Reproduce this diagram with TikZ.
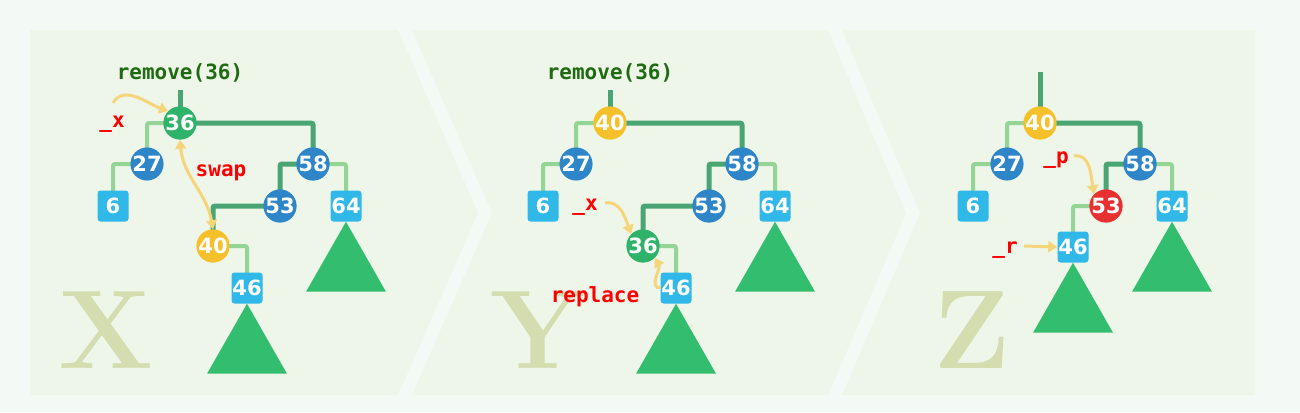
\documentclass[tikz,border=0pt]{standalone}
\usepackage{fontspec}
\setsansfont{DejaVu Sans}
\setmonofont{DejaVu Sans Mono}
\usetikzlibrary{backgrounds,arrows.meta}
\pgfdeclarelayer{back}
\pgfsetlayers{back,background,main}
\definecolor{bgc}{HTML}{F3FAF5}
\definecolor{pan}{HTML}{EEF6E9}
\definecolor{thk}{HTML}{4AA574}
\definecolor{thn}{HTML}{94D494}
\definecolor{cg}{HTML}{2FB36A}
\definecolor{cb}{HTML}{2E86C8}
\definecolor{cy}{HTML}{F5C02A}
\definecolor{cr}{HTML}{E83030}
\definecolor{sq}{HTML}{30B8E8}
\definecolor{tri}{HTML}{33BD6E}
\definecolor{arr}{HTML}{F5D57A}
\definecolor{lab}{HTML}{1E6B12}
\definecolor{let}{HTML}{D3DDB0}
\tikzset{
 nd/.style={circle,minimum size=31pt,inner sep=0pt,text=white,font=\sffamily\bfseries\fontsize{21}{21}\selectfont},
 ng/.style={nd,fill=cg}, nb/.style={nd,fill=cb}, ny/.style={nd,fill=cy}, nr/.style={nd,fill=cr},
 ns/.style={nd,rectangle,rounded corners=3pt,minimum size=31pt,fill=sq},
 thick edge/.style={draw=thk,line width=5pt,rounded corners=2pt},
 thin edge/.style={draw=thn,line width=4pt,rounded corners=2pt},
 ptr/.style={draw=arr,line width=3pt,-{Triangle[length=9pt,width=11pt]}},
 red lbl/.style={text=red,font=\ttfamily\bfseries\fontsize{21}{21}\selectfont},
 grn lbl/.style={text=lab,font=\ttfamily\bfseries\fontsize{21}{21}\selectfont},
 big/.style={text=let,font=\rmfamily\bfseries\fontsize{112}{112}\selectfont},
 tr/.style={fill=tri}
}
\begin{document}
\begin{tikzpicture}[x=1pt,y=-1pt]
\begin{pgfonlayer}{back}
\fill[bgc] (0,0) rectangle (1300,412);
\fill[pan] (30,30) -- (398,30) -- (478,213) -- (398,395) -- (30,395) -- cycle;
\fill[pan] (412,30) -- (828,30) -- (906,213) -- (828,395) -- (412,395) -- (492,213) -- cycle;
\fill[pan] (842,30) -- (1255,30) -- (1255,395) -- (842,395) -- (920,213) -- cycle;
\end{pgfonlayer}
\useasboundingbox (0,0) rectangle (1300,412);

% Panel 1
\node[big] (X) at (106,330) {X};
\node[ng] (a36) at (180,123) {36};
\node[nb] (a27) at (147,164) {27};
\node[ns] (a6) at (113,206) {6};
\node[nb] (a58) at (313,164) {58};
\node[nb] (a53) at (280,206) {53};
\node[ns] (a64) at (346,206) {64};
\node[ny] (a40) at (213,246) {40};
\node[ns] (a46) at (247,288) {46};
\coordinate (a0) at (180,90);
\begin{scope}[on background layer]
\draw[thick edge] (a0) -- (a36.center);
\draw[thick edge] (a36.center) -| (a58.center);
\draw[thick edge] (a58.center) -| (a53.center);
\draw[thick edge] (a53.center) -| (a40.center);
\draw[thin edge] (a36.center) -| (a27.center);
\draw[thin edge] (a27.center) -| (a6.center);
\draw[thin edge] (a58.center) -| (a64.center);
\draw[thin edge] (a40.center) -| (a46.center);
\end{scope}
\fill[tri] (a64.south) -- ++(40,70) -- ++(-80,0) -- cycle;
\fill[tri] (a46.south) -- ++(40,70) -- ++(-80,0) -- cycle;
\node[grn lbl] (r1) at (180,73) {remove(36)};
\node[red lbl] (x1) at (112,124) {\_x};
\coordinate (x1s) at (113,103);
\draw[ptr] (x1s) to[out=60,in=160] (a36.north west);
\node[red lbl] (sw) at (221,173) {swap};
\draw[draw=arr,line width=3pt,{Triangle[length=9pt,width=11pt]}-{Triangle[length=9pt,width=11pt]}] (a36.south) to[out=-85,in=100] (a40.north);

% Panel 2
\node[big] (Y) at (538,330) {Y};
\node[ny] (b40) at (610,123) {40};
\node[nb] (b27) at (576,164) {27};
\node[ns] (b6) at (543,206) {6};
\node[nb] (b58) at (742,164) {58};
\node[nb] (b53) at (709,206) {53};
\node[ns] (b64) at (775,206) {64};
\node[ng] (b36) at (643,246) {36};
\node[ns] (b46) at (676,288) {46};
\coordinate (b0) at (610,90);
\begin{scope}[on background layer]
\draw[thick edge] (b0) -- (b40.center);
\draw[thick edge] (b40.center) -| (b58.center);
\draw[thick edge] (b58.center) -| (b53.center);
\draw[thick edge] (b53.center) -| (b36.center);
\draw[thin edge] (b40.center) -| (b27.center);
\draw[thin edge] (b27.center) -| (b6.center);
\draw[thin edge] (b58.center) -| (b64.center);
\draw[thin edge] (b36.center) -| (b46.center);
\end{scope}
\fill[tri] (b64.south) -- ++(40,70) -- ++(-80,0) -- cycle;
\fill[tri] (b46.south) -- ++(40,70) -- ++(-80,0) -- cycle;
\node[grn lbl] (r2) at (610,73) {remove(36)};
\node[red lbl] (x2) at (585,207) {\_x};
\coordinate (x2s) at (605,203);
\draw[ptr] (x2s) to[out=10,in=110] (b36.north west);
\node[red lbl] (rp) at (595,297) {replace};
\draw[ptr] (b46.west) to[out=180,in=-60] (b36.south east);

% Panel 3
\node[big] (Z) at (972,330) {Z};
\node[ny] (c40) at (1040,123) {40};
\node[nb] (c27) at (1007,164) {27};
\node[ns] (c6) at (973,206) {6};
\node[nb] (c58) at (1140,164) {58};
\node[nr] (c53) at (1106,206) {53};
\node[ns] (c64) at (1172,206) {64};
\node[ns] (c46) at (1073,247) {46};
\coordinate (c0) at (1040,72);
\begin{scope}[on background layer]
\draw[thick edge] (c0) -- (c40.center);
\draw[thick edge] (c40.center) -| (c58.center);
\draw[thick edge] (c58.center) -| (c53.center);
\draw[thin edge] (c40.center) -| (c27.center);
\draw[thin edge] (c27.center) -| (c6.center);
\draw[thin edge] (c58.center) -| (c64.center);
\draw[thin edge] (c53.center) -| (c46.center);
\end{scope}
\fill[tri] (c64.south) -- ++(40,70) -- ++(-80,0) -- cycle;
\fill[tri] (c46.south) -- ++(40,70) -- ++(-80,0) -- cycle;
\node[red lbl] (p3) at (1056,160) {\_p};
\coordinate (p3s) at (1074,156);
\draw[ptr] (p3s) to[out=10,in=100] (c53.north west);
\node[red lbl] (r3) at (1005,250) {\_r};
\coordinate (r3s) at (1024,246);
\draw[ptr] (r3s) -- (c46.west);
\end{tikzpicture}
\end{document}
